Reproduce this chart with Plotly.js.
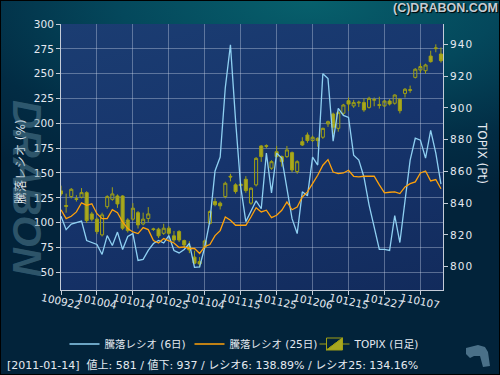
<!DOCTYPE html>
<html><head><meta charset="utf-8">
<script src="https://cdn.plot.ly/plotly-3.0.1.min.js"></script>
<style>
html,body{margin:0;padding:0;}
body{width:500px;height:375px;overflow:hidden;position:relative;
 background: radial-gradient(ellipse 95% 55% at 62% 0%, #07606c 0%, #04485c 40%, #022c44 75%, #02233a 100%);}
#plotbg{position:absolute;left:61px;top:24px;width:382px;height:266px;background:linear-gradient(165deg,#1b3d72 0%,#16346c 50%,#122b5c 100%);}
#chart{position:absolute;left:0;top:0;width:500px;height:375px;}
#frame{position:absolute;left:0;top:0;width:498px;height:373px;border:1px solid #000;pointer-events:none;}
.ytick text{letter-spacing:1px;}
</style></head>
<body>
<div id="plotbg"></div><div id="chart"></div><div id="frame"></div>
<script>
// ---- data ----
const dates = ['100922','100924','100927','100928','100929','100930','101001','101004','101005','101006',
 '101007','101008','101012','101013','101014','101015','101018','101019','101020','101021',
 '101022','101025','101026','101027','101028','101029','101101','101102','101104','101105',
 '101108','101109','101110','101111','101112','101115','101116','101117','101118','101119',
 '101122','101124','101125','101126','101129','101130','101201','101202','101203','101206',
 '101207','101208','101209','101210','101213','101214','101215','101216','101217','101220',
 '101221','101222','101224','101227','101228','101229','101230','110104','110105','110106',
 '110107','110111','110112','110113','110114'];
const tickLabels = ['100922','101004','101014','101025','101104','101115','101125','101206','101215','101227','110107'];

const ratio6 = [106.5,93,98.5,100,101.5,82,80,78,68,87,
 77,90.5,73,86,89,62,63,72,79,82,
 79.5,87,72,69.5,73,79,55,55.5,75.5,102,
 152,166,236,279,203,136,101,112,122,114,
 170,130,170,165,136,104,89,131,127,166,
 158,250,245,182,215,208,206,168,163,146,
 118,95,73,73,72,107,80,122,163,185,
 183,165,193,170,138.89];
const ratio25 = [113,104,106.4,110.8,120,117.5,119,109,104,104,
 113,110,100.7,94,90.6,89,95,93,82,79.5,
 84,82,79.5,75,75.5,74,74,69,76,78,
 87,92,105.7,102.4,97.4,97.4,97.4,105.7,115,110.8,
 112.5,105,107.4,112.5,120.9,113,115.8,125.9,131,139.3,
 147.7,157.8,163.5,151,149.4,150,152.8,146.7,146,146.7,
 146.7,146.7,138,130,130.6,131,129.3,136,139.3,141,
 150,152,142,143.4,134.16];

const topixOpen = [847.7,838.5,844.1,842.8,843.7,846.6,833.2,829.9,820.0,837.8,
 842.4,844.5,844.5,829.4,829.9,834.0,826.9,830.3,823.8,823.6,
 821.0,824.2,819.4,822.1,816.4,812.6,806.0,803.2,812.2,827.3,
 841.0,840.0,844.1,856.9,851.5,851.0,855.0,840.0,851.5,876.0,
 876.2,862.0,872.4,869.3,869.3,871.8,859.9,878.7,882.9,879.4,
 880.8,881.5,889.9,896.1,887.1,896.6,904.5,901.2,903.1,903.3,
 900.3,904.8,902.0,901.2,904.3,902.9,905.4,909.1,911.0,919.2,
 923.8,923.4,932.6,937.3,933.9];
const topixHigh = [851.0,846.0,849.5,845.0,849.5,847.5,834.5,831.0,834.0,845.0,
 850.0,845.5,845.0,830.5,840.0,835.0,834.0,837.5,824.5,824.5,
 827.0,825.5,822.5,823.0,817.0,816.0,810.0,806.0,817.0,835.5,
 843.0,841.0,853.5,858.5,852.5,853.0,857.0,850.0,869.0,876.5,
 877.0,867.0,876.0,870.0,876.0,872.5,867.0,881.5,884.5,882.5,
 881.5,887.5,892.0,897.0,898.0,902.5,906.5,905.0,904.5,906.0,
 907.0,906.5,907.0,905.0,905.5,908.5,906.0,912.5,914.0,925.0,
 928.0,927.8,936.0,940.0,938.0];
const topixLow = [844.5,834.0,843.0,841.0,843.0,827.5,828.5,820.5,819.0,836.5,
 841.5,837.0,823.0,821.5,829.0,824.0,826.0,828.0,822.5,818.0,
 820.0,820.0,815.5,815.5,812.0,808.5,801.5,799.5,811.0,826.5,
 838.0,836.0,843.0,853.7,846.0,849.0,846.5,839.0,850.5,866.0,
 874.5,861.0,868.5,863.0,868.5,859.5,858.5,876.0,878.0,878.5,
 875.5,880.5,888.0,883.5,885.0,895.5,898.0,900.0,900.5,897.5,
 899.5,901.0,899.5,900.5,901.5,902.0,896.5,906.5,909.5,918.5,
 922.0,921.5,928.5,935.0,928.5];
const topixClose = [845.8,838.0,848.7,842.4,846.6,829.0,829.9,822.1,832.6,844.1,
 845.8,839.5,824.2,822.7,836.8,826.3,829.9,833.2,823.4,819.4,
 824.2,821.0,816.8,816.8,813.7,810.5,802.2,801.7,816.2,834.7,
 839.0,838.3,852.5,856.5,847.3,851.8,847.9,849.4,868.2,869.3,
 875.8,866.1,869.3,866.1,873.5,860.9,866.1,876.6,879.4,881.5,
 879.4,887.1,891.3,887.8,897.0,901.8,902.4,903.3,903.5,898.7,
 906.0,905.2,901.6,904.3,902.4,908.1,898.2,911.7,911.4,924.3,
 926.0,927.0,929.1,937.7,929.7];

const statusDate = '2011-01-14';
const advances = 581;
const declines = 937;

// ---- helpers for layout placement (pixels -> paper) ----
const PL = 61, PR = 443, PT = 24, PB = 290;
const px2x = X => (X - PL) / (PR - PL);
const py2y = Y => (PB - Y) / (PB - PT);

const txtColor = '#e4e9f0';
const gridColor = 'rgba(205,215,235,0.38)';
const axisColor = '#c4ccd8';
const candleLine = '#a0a014';
const candleFill = '#a8a820';

const traces = [
  {type:'scatter', mode:'lines', name:'騰落レシオ (6日)', x:dates, y:ratio6, xaxis:'x', yaxis:'y2',
   line:{color:'#8fd0f2', width:1.3}},
  {type:'scatter', mode:'lines', name:'騰落レシオ (25日)', x:dates, y:ratio25, xaxis:'x', yaxis:'y2',
   line:{color:'#ffa20a', width:1.3}},
  {type:'candlestick', name:'TOPIX (日足)', x:dates, open:topixOpen, high:topixHigh, low:topixLow, close:topixClose,
   xaxis:'x', yaxis:'y',
   increasing:{line:{color:candleLine, width:1}, fillcolor:'rgba(0,0,0,0)'},
   decreasing:{line:{color:candleLine, width:1}, fillcolor:candleFill}}
];

const tickIdx = tickLabels.map(l => dates.indexOf(l));
const annotations = [];
tickLabels.forEach((l, k) => {
  annotations.push({x:tickIdx[k], xref:'x', y:0, yref:'paper', yshift:-11, text:l, showarrow:false,
    textangle:12, xanchor:'center', yanchor:'middle', font:{size:10.5, color:txtColor}});
});
annotations.push({xref:'paper', yref:'paper', x:px2x(20), y:py2y(162), xanchor:'center', yanchor:'middle',
  text:'騰落レシオ (%)', textangle:-90, showarrow:false, font:{size:12, color:txtColor}});
annotations.push({xref:'paper', yref:'paper', x:px2x(482), y:py2y(153), xanchor:'center', yanchor:'middle',
  text:'TOPIX (Pt)', textangle:90, showarrow:false, font:{size:12, color:txtColor}});
annotations.push({xref:'paper', yref:'paper', x:px2x(27), y:py2y(188), xanchor:'center', yanchor:'middle',
  text:'DRABON', textangle:90, showarrow:false,
  font:{family:'Liberation Sans, Arial, sans-serif', size:40, weight:'bold', style:'italic', color:'rgba(95,140,160,0.48)'}});
annotations.push({xref:'paper', yref:'paper', x:px2x(445), y:py2y(8), xanchor:'center', yanchor:'middle',
  text:'(C)DRABON.COM', showarrow:false,
  font:{family:'Liberation Sans, Arial, sans-serif', size:12.5, weight:'bold', color:'#c6ccd3', shadow:'1px 1px 1px #000'}});
annotations.push({xref:'paper', yref:'paper', x:px2x(5), y:py2y(365), xanchor:'left', yanchor:'middle', showarrow:false,
  text:'[' + statusDate + ']\u00a0\u00a0値上: ' + advances + ' / 値下: ' + declines + ' / レシオ6: ' +
    ratio6[ratio6.length-1].toFixed(2) + '% / レシオ25: ' + ratio25[ratio25.length-1].toFixed(2) + '%',
  font:{size:11, color:txtColor}});

// small logo at bottom right
const logoPts = [[466,348],[478,345],[485,347],[488,352],[490,366],[483,367],[480,356],[474,356],[470,358],[466,354]];
const logoPath = 'M' + logoPts.map(p => px2x(p[0]).toFixed(4) + ',' + py2y(p[1]).toFixed(4)).join(' L') + ' Z';

const layout = {
  width:500, height:375,
  margin:{l:PL, r:500-PR, t:PT, b:375-PB, pad:0},
  paper_bgcolor:'rgba(0,0,0,0)', plot_bgcolor:'rgba(0,0,0,0)',
  font:{family:'DejaVu Sans, Noto Sans CJK JP, sans-serif', color:txtColor, size:10},
  showlegend:true,
  boxgap:0.15,
  xaxis:{type:'category', range:[0, 74.4], tickvals:tickIdx, ticks:'outside', ticklen:4,
    tickcolor:axisColor, showticklabels:false, showgrid:true, gridcolor:gridColor, gridwidth:1,
    showline:true, linecolor:axisColor, linewidth:1, zeroline:false, rangeslider:{visible:false}, fixedrange:true},
  yaxis:{side:'right', range:[785.3, 952.8], tick0:800, dtick:20, ticks:'outside', ticklen:4, tickcolor:axisColor,
    showgrid:false, showline:true, linecolor:axisColor, linewidth:1, zeroline:false,
    tickfont:{size:10.5, color:txtColor}},
  yaxis2:{overlaying:'y', side:'left', range:[32.2, 300], tick0:0, dtick:25, ticks:'outside', ticklen:4,
    tickcolor:axisColor, showgrid:true, gridcolor:gridColor, gridwidth:1, showline:true, linecolor:axisColor,
    linewidth:1, zeroline:false, tickfont:{size:10.5, color:txtColor}},
  legend:{orientation:'h', x:0.5, xanchor:'center', y:py2y(344), yanchor:'middle', entrywidth:80,
    font:{size:10.5, color:txtColor}, bgcolor:'rgba(0,0,0,0)'},
  annotations:annotations,
  shapes:[{type:'path', xref:'paper', yref:'paper', path:logoPath, fillcolor:'#4a7088', line:{width:0}}]
};

Plotly.newPlot('chart', traces, layout, {displayModeBar:false, staticPlot:true});
</script>
</body></html>
